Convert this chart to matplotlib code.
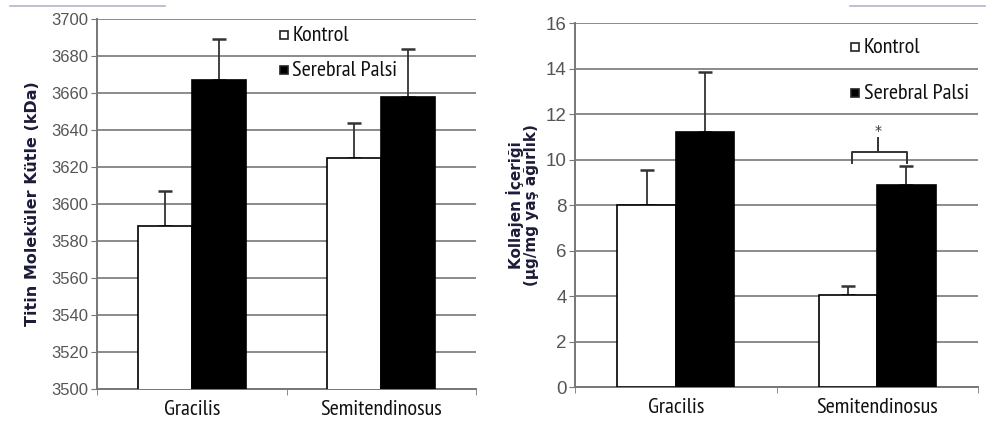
import numpy as np
import matplotlib.pyplot as plt
from matplotlib.lines import Line2D

# data
groups = ["Gracilis", "Semitendinosus"]
series = ["Kontrol", "Serebral Palsi"]

titin_kontrol = [3588, 3625]
titin_kontrol_err = [19, 19]
titin_sp = [3667, 3658]
titin_sp_err = [22, 26]

kol_kontrol = [8.0, 4.05]
kol_kontrol_err = [1.55, 0.38]
kol_sp = [11.2, 8.9]
kol_sp_err = [2.65, 0.8]

cond = ["PT Sans Narrow", "Roboto Condensed", "Roboto", "DejaVu Sans"]
num = ["Liberation Sans", "DejaVu Sans"]
tickcol = "#555555"
labcol = "#1c1c3a"

fig = plt.figure(figsize=(9.89, 4.30), dpi=100)
ax1 = fig.add_axes([0.0981, 0.0953, 0.3832, 0.8605])
ax2 = fig.add_axes([0.5814, 0.1000, 0.4075, 0.8465])

x = np.arange(len(groups)) + 0.5


def panel(ax, k, ke, s, se, w):
    ax.set_axisbelow(True)
    ax.yaxis.grid(True, color="#8a8a8a", lw=1.4)
    ax.bar(x - w / 2, k, w, color="white", edgecolor="black", lw=1.2, zorder=3)
    ax.bar(x + w / 2, s, w, color="black", edgecolor="black", lw=1.2, zorder=3)
    ax.errorbar(x - w / 2, k, yerr=[np.zeros(2), ke], fmt="none", ecolor="#333333",
                elinewidth=1.3, capsize=5, capthick=1.8, zorder=2)
    ax.errorbar(x + w / 2, s, yerr=[np.zeros(2), se], fmt="none", ecolor="#333333",
                elinewidth=1.3, capsize=5, capthick=1.8, zorder=2)
    ax.set_xlim(0, 2)
    for sp in ["top", "right"]:
        ax.spines[sp].set_visible(False)
    ax.spines["left"].set_color("#777777")
    ax.spines["bottom"].set_color("#777777")
    ax.spines["left"].set_linewidth(1.4)
    ax.spines["bottom"].set_linewidth(1.4)
    ax.set_xticks(x)
    ax.set_xticklabels(groups, family=cond, fontsize=16, color="#111111")
    ax.set_xticks([0, 1, 2], minor=True)
    ax.tick_params(axis="x", which="major", length=0, pad=8)
    ax.tick_params(axis="x", which="minor", length=4, color="#777777")
    ax.tick_params(axis="y", length=4, color="#777777", labelcolor=tickcol, pad=2)


panel(ax1, titin_kontrol, titin_kontrol_err, titin_sp, titin_sp_err, 0.286)
ax1.set_ylim(3500, 3700)
ax1.set_yticks(np.arange(3500, 3701, 20))
for t in ax1.get_yticklabels():
    t.set_fontsize(12)
    t.set_family(num)
ax1.set_ylabel("Titin Moleküler Kütle (kDa)", fontsize=11.5, fontweight="bold",
               color=labcol, labelpad=8)

panel(ax2, kol_kontrol, kol_kontrol_err, kol_sp, kol_sp_err, 0.29)
ax2.set_ylim(0, 16)
ax2.set_yticks(np.arange(0, 17, 2))
for t in ax2.get_yticklabels():
    t.set_fontsize(13.5)
    t.set_family(num)
ax2.set_ylabel("Kollajen İçeriği\n(µg/mg yaş ağırlık)", fontsize=11,
               fontweight="bold", color=labcol, labelpad=5, linespacing=1.0)

# significance bracket
bx0, bx1, bxm = 1.375, 1.648, 1.504
ax2.plot([bx0, bx0, bx1, bx1], [9.85, 10.33, 10.33, 9.85], color="#333333", lw=1.4,
         zorder=4, solid_joinstyle="round")
ax2.plot([bxm, bxm], [10.33, 10.95], color="#333333", lw=1.4, zorder=4)
ax2.text(bxm, 11.25, "*", ha="center", va="center", fontsize=10, color="#333333")


# legends drawn as text with square markers
def legend(ax, xs, ys, size):
    for yy, lab, fc in zip(ys, series, ["white", "black"]):
        ax.plot([xs], [yy], marker="s", ms=6, mfc=fc, mec="#222222", mew=1.2,
                transform=ax.transAxes, clip_on=False, zorder=5)
        ax.text(xs + 0.022, yy, lab, transform=ax.transAxes, family=cond,
                fontsize=size, va="center", ha="left", color="#111111")


legend(ax1, (284 - 97) / 379, [1 - (35 - 19) / 370, 1 - (70 - 19) / 370], 16)
legend(ax2, (855 - 575) / 403, [1 - (47 - 23) / 364, 1 - (93 - 23) / 364], 16)

# thin decorative lines at the top of the figure
fig.add_artist(Line2D([10 / 989, 165 / 989], [1 - 6 / 430] * 2, color="#b4b4cc", lw=1.2))
fig.add_artist(Line2D([850 / 989, 985 / 989], [1 - 6 / 430] * 2, color="#b4b4cc", lw=1.2))

fig.savefig("out.png", dpi=100)
